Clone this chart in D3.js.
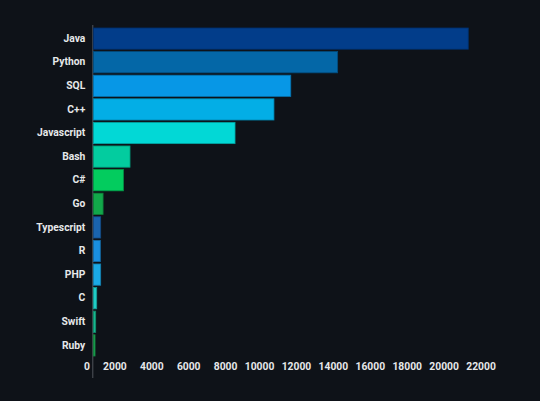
<!DOCTYPE html>
<html><head><meta charset="utf-8">
<script src="https://cdn.jsdelivr.net/npm/d3@7"></script>
<style>
html,body{margin:0;padding:0;background:#0e1218;}
svg{display:block;}
text{font-family:Roboto,"Noto Sans",sans-serif;font-weight:700;fill:#e6e8ea;}
</style></head>
<body>
<svg id="chart" width="540" height="401"></svg>
<script>
const languages = ["Java","Python","SQL","C++","Javascript","Bash","C#","Go","Typescript","R","PHP","C","Swift","Ruby"];
const counts = [20320,13240,10700,9790,7680,1990,1630,530,400,380,400,185,130,95];
const barColors = ["#023d8a","#0467a7","#0797e6","#03aee6","#02d8d6","#03cc9f","#03cc5e","#12a84a","#1a64ae","#1a8fe0","#1aa9e6","#1fcdc6","#17b78f","#1aa852"];
const xTicks = [0,2000,4000,6000,8000,10000,12000,14000,16000,18000,20000,22000];

const svg = d3.select("#chart");
const W = 540, H = 401;
svg.append("rect").attr("width",W).attr("height",H).attr("fill","#0e1218");

const x = d3.scaleLinear().domain([0,22000]).range([93.3,499.3]);
const y = d3.scaleBand().domain(languages).range([26.8,357.2]).paddingInner(0.1).paddingOuter(0.05);

// y axis line
svg.append("line").attr("x1",92.8).attr("x2",92.8).attr("y1",25).attr("y2",378)
  .attr("stroke","#50555c").attr("stroke-width",1);

const data = languages.map((l,i)=>({lang:l,value:counts[i],color:barColors[i]}));

svg.append("g").selectAll("rect").data(data).join("rect")
  .attr("x",x(0))
  .attr("y",d=>y(d.lang))
  .attr("width",d=>x(d.value)-x(0))
  .attr("height",y.bandwidth())
  .attr("fill",d=>d.color)
  .attr("stroke",d=>d3.color(d.color).darker(0.8))
  .attr("stroke-width",0.8);

// y labels
const yAxis = d3.axisLeft(y).tickSize(0).tickPadding(8);
const gy = svg.append("g").attr("transform",`translate(${x(0)},0)`).call(yAxis);
gy.select(".domain").remove();
gy.selectAll("text").attr("font-size",10.3).style("font-family","Roboto,sans-serif").style("font-weight",700).attr("fill","#e6e8ea");

// x labels
const xAxis = d3.axisBottom(x).tickValues(xTicks).tickSize(0).tickPadding(0).tickFormat(d3.format("d"));
const gx = svg.append("g").attr("transform","translate(0,362)").call(xAxis);
gx.select(".domain").remove();
gx.selectAll("text").attr("text-anchor","end").attr("dx",-4).attr("dy","0.32em")
  .attr("y",4.5).attr("font-size",10.3).style("font-family","Roboto,sans-serif").style("font-weight",700).attr("fill","#e6e8ea");
</script>
</body></html>
